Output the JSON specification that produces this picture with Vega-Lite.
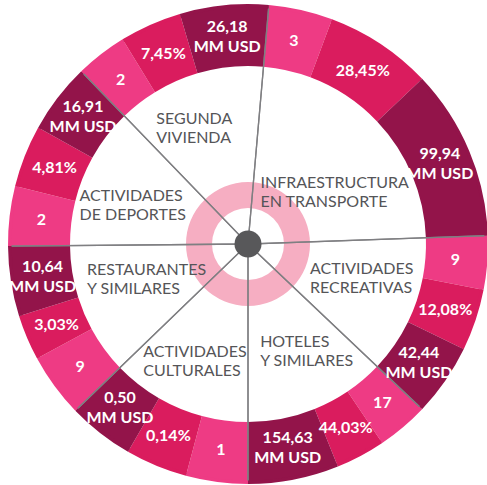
{
  "$schema": "https://vega.github.io/schema/vega-lite/v6.json",
  "width": 478,
  "height": 482,
  "autosize": {"type": "none"},
  "padding": {"left": 9, "top": 3, "right": 0, "bottom": 0},
  "background": "white",
  "view": {"stroke": null},
  "data": {
    "values": [
      {"ord": 1, "id": "infra", "cat": "INFRAESTRUCTURA\nEN TRANSPORTE", "tone": "a", "label": "3", "span": 15.5},
      {"ord": 2, "id": "infra", "cat": "INFRAESTRUCTURA\nEN TRANSPORTE", "tone": "b", "label": "28,45%", "span": 26},
      {"ord": 3, "id": "infra", "cat": "INFRAESTRUCTURA\nEN TRANSPORTE", "tone": "c", "label": "99,94\nMM USD", "span": 41.5},
      {"ord": 4, "id": "recre", "cat": "ACTIVIDADES\nRECREATIVAS", "tone": "a", "label": "9", "span": 13},
      {"ord": 5, "id": "recre", "cat": "ACTIVIDADES\nRECREATIVAS", "tone": "b", "label": "12,08%", "span": 15},
      {"ord": 6, "id": "recre", "cat": "ACTIVIDADES\nRECREATIVAS", "tone": "c", "label": "42,44\nMM USD", "span": 17.5},
      {"ord": 7, "id": "hotel", "cat": "HOTELES\nY SIMILARES", "tone": "a", "label": "17", "span": 12.5},
      {"ord": 8, "id": "hotel", "cat": "HOTELES\nY SIMILARES", "tone": "b", "label": "44,03%", "span": 12},
      {"ord": 9, "id": "hotel", "cat": "HOTELES\nY SIMILARES", "tone": "c", "label": "154,63\nMM USD", "span": 22},
      {"ord": 10, "id": "cult", "cat": "ACTIVIDADES\nCULTURALES", "tone": "a", "label": "1", "span": 15},
      {"ord": 11, "id": "cult", "cat": "ACTIVIDADES\nCULTURALES", "tone": "b", "label": "0,14%", "span": 15},
      {"ord": 12, "id": "cult", "cat": "ACTIVIDADES\nCULTURALES", "tone": "c", "label": "0,50\nMM USD", "span": 16},
      {"ord": 13, "id": "rest", "cat": "RESTAURANTES\nY SIMILARES", "tone": "a", "label": "9", "span": 15.5},
      {"ord": 14, "id": "rest", "cat": "RESTAURANTES\nY SIMILARES", "tone": "b", "label": "3,03%", "span": 11},
      {"ord": 15, "id": "rest", "cat": "RESTAURANTES\nY SIMILARES", "tone": "c", "label": "10,64\nMM USD", "span": 17},
      {"ord": 16, "id": "dep", "cat": "ACTIVIDADES\nDE DEPORTES", "tone": "a", "label": "2", "span": 14.5},
      {"ord": 17, "id": "dep", "cat": "ACTIVIDADES\nDE DEPORTES", "tone": "b", "label": "4,81%", "span": 15},
      {"ord": 18, "id": "dep", "cat": "ACTIVIDADES\nDE DEPORTES", "tone": "c", "label": "16,91\nMM USD", "span": 17},
      {"ord": 19, "id": "seg", "cat": "SEGUNDA\nVIVIENDA", "tone": "a", "label": "2", "span": 12.5},
      {"ord": 20, "id": "seg", "cat": "SEGUNDA\nVIVIENDA", "tone": "b", "label": "7,45%", "span": 15},
      {"ord": 21, "id": "seg", "cat": "SEGUNDA\nVIVIENDA", "tone": "c", "label": "26,18\nMM USD", "span": 21.5}
    ]
  },
  "layer": [
    {
      "mark": {"type": "arc", "innerRadius": 178, "outerRadius": 238},
      "encoding": {
        "theta": {"field": "span", "type": "quantitative", "stack": true, "scale": {"domain": [0, 360], "nice": false, "range": [0.08727, 6.37045]}},
        "order": {"field": "ord", "type": "quantitative"},
        "detail": {"field": "ord", "type": "nominal"},
        "color": {"field": "tone", "type": "nominal", "scale": {"domain": ["a", "b", "c"], "range": ["#EE3B84", "#DA1C5E", "#93144A"]}, "legend": null}
      }
    },
    {
      "transform": [{"aggregate": [{"op": "count", "as": "n"}]}],
      "mark": {"type": "arc", "innerRadius": 36, "outerRadius": 62, "theta": 0, "theta2": 6.2832, "fill": "#F6AEC2"},
      "encoding": {}
    },
    {
      "transform": [{"aggregate": [{"op": "sum", "field": "span", "as": "span"}, {"op": "min", "field": "ord", "as": "ord"}], "groupby": ["id"]}],
      "mark": {"type": "arc", "innerRadius": 0, "outerRadius": 238, "filled": false, "stroke": "#7f7f82", "strokeWidth": 1.3},
      "encoding": {
        "theta": {"field": "span", "type": "quantitative", "stack": true},
        "order": {"field": "ord", "type": "quantitative"},
        "detail": {"field": "id", "type": "nominal"}
      }
    },
    {
      "mark": {"type": "arc", "innerRadius": 236.5, "outerRadius": 240},
      "encoding": {
        "theta": {"field": "span", "type": "quantitative", "stack": true},
        "order": {"field": "ord", "type": "quantitative"},
        "detail": {"field": "ord", "type": "nominal"},
        "color": {"field": "tone", "type": "nominal", "legend": null}
      }
    },
    {
      "transform": [{"aggregate": [{"op": "count", "as": "n"}]}],
      "mark": {"type": "arc", "innerRadius": 0, "outerRadius": 13.5, "theta": 0, "theta2": 6.2832, "fill": "#58585A"},
      "encoding": {}
    },
    {
      "mark": {"type": "text", "radius": 208, "font": "Lato", "fontWeight": "bold", "fontSize": 16, "lineHeight": 20, "lineBreak": "\n", "fill": "white", "align": "center", "baseline": "middle"},
      "encoding": {
        "theta": {"field": "span", "type": "quantitative", "stack": true},
        "order": {"field": "ord", "type": "quantitative"},
        "detail": {"field": "ord", "type": "nominal"},
        "text": {"field": "label", "type": "nominal", "condition": {"test": "datum.tone === 'c'", "value": ""}}
      }
    },
    {
      "mark": {"type": "text", "radius": 208, "dy": -10, "font": "Lato", "fontWeight": "bold", "fontSize": 16, "lineHeight": 20, "lineBreak": "\n", "fill": "white", "align": "center", "baseline": "middle"},
      "encoding": {
        "theta": {"field": "span", "type": "quantitative", "stack": true},
        "order": {"field": "ord", "type": "quantitative"},
        "detail": {"field": "ord", "type": "nominal"},
        "text": {"field": "label", "type": "nominal", "condition": {"test": "datum.tone !== 'c'", "value": ""}}
      }
    },
    {
      "transform": [{"aggregate": [{"op": "sum", "field": "span", "as": "span"}, {"op": "min", "field": "ord", "as": "ord"}], "groupby": ["id", "cat"]}],
      "mark": {"type": "text", "radius": 122, "dx": -51, "dy": -10, "font": "Lato", "fontSize": 16, "lineHeight": 19, "lineBreak": "\n", "fill": "#555558", "align": "left", "baseline": "middle"},
      "encoding": {
        "theta": {"field": "span", "type": "quantitative", "stack": true},
        "order": {"field": "ord", "type": "quantitative"},
        "detail": {"field": "id", "type": "nominal"},
        "text": {"field": "cat", "type": "nominal", "condition": {"test": "datum.id !== 'seg'", "value": ""}}
      }
    },
    {
      "transform": [{"aggregate": [{"op": "sum", "field": "span", "as": "span"}, {"op": "min", "field": "ord", "as": "ord"}], "groupby": ["id", "cat"]}],
      "mark": {"type": "text", "radius": 122, "dx": -76, "dy": 23, "font": "Lato", "fontSize": 16, "lineHeight": 19, "lineBreak": "\n", "fill": "#555558", "align": "left", "baseline": "middle"},
      "encoding": {
        "theta": {"field": "span", "type": "quantitative", "stack": true},
        "order": {"field": "ord", "type": "quantitative"},
        "detail": {"field": "id", "type": "nominal"},
        "text": {"field": "cat", "type": "nominal", "condition": {"test": "datum.id !== 'infra'", "value": ""}}
      }
    },
    {
      "transform": [{"aggregate": [{"op": "sum", "field": "span", "as": "span"}, {"op": "min", "field": "ord", "as": "ord"}], "groupby": ["id", "cat"]}],
      "mark": {"type": "text", "radius": 122, "dx": -52, "dy": -18, "font": "Lato", "fontSize": 16, "lineHeight": 19, "lineBreak": "\n", "fill": "#555558", "align": "left", "baseline": "middle"},
      "encoding": {
        "theta": {"field": "span", "type": "quantitative", "stack": true},
        "order": {"field": "ord", "type": "quantitative"},
        "detail": {"field": "id", "type": "nominal"},
        "text": {"field": "cat", "type": "nominal", "condition": {"test": "datum.id !== 'recre'", "value": ""}}
      }
    },
    {
      "transform": [{"aggregate": [{"op": "sum", "field": "span", "as": "span"}, {"op": "min", "field": "ord", "as": "ord"}], "groupby": ["id", "cat"]}],
      "mark": {"type": "text", "radius": 122, "dx": -36, "dy": -14, "font": "Lato", "fontSize": 16, "lineHeight": 19, "lineBreak": "\n", "fill": "#555558", "align": "left", "baseline": "middle"},
      "encoding": {
        "theta": {"field": "span", "type": "quantitative", "stack": true},
        "order": {"field": "ord", "type": "quantitative"},
        "detail": {"field": "id", "type": "nominal"},
        "text": {"field": "cat", "type": "nominal", "condition": {"test": "datum.id !== 'hotel'", "value": ""}}
      }
    },
    {
      "transform": [{"aggregate": [{"op": "sum", "field": "span", "as": "span"}, {"op": "min", "field": "ord", "as": "ord"}], "groupby": ["id", "cat"]}],
      "mark": {"type": "text", "radius": 122, "dx": -57, "dy": -4, "font": "Lato", "fontSize": 16, "lineHeight": 19, "lineBreak": "\n", "fill": "#555558", "align": "left", "baseline": "middle"},
      "encoding": {
        "theta": {"field": "span", "type": "quantitative", "stack": true},
        "order": {"field": "ord", "type": "quantitative"},
        "detail": {"field": "id", "type": "nominal"},
        "text": {"field": "cat", "type": "nominal", "condition": {"test": "datum.id !== 'cult'", "value": ""}}
      }
    },
    {
      "transform": [{"aggregate": [{"op": "sum", "field": "span", "as": "span"}, {"op": "min", "field": "ord", "as": "ord"}], "groupby": ["id", "cat"]}],
      "mark": {"type": "text", "radius": 122, "dx": -48, "dy": -20, "font": "Lato", "fontSize": 16, "lineHeight": 19, "lineBreak": "\n", "fill": "#555558", "align": "left", "baseline": "middle"},
      "encoding": {
        "theta": {"field": "span", "type": "quantitative", "stack": true},
        "order": {"field": "ord", "type": "quantitative"},
        "detail": {"field": "id", "type": "nominal"},
        "text": {"field": "cat", "type": "nominal", "condition": {"test": "datum.id !== 'rest'", "value": ""}}
      }
    },
    {
      "transform": [{"aggregate": [{"op": "sum", "field": "span", "as": "span"}, {"op": "min", "field": "ord", "as": "ord"}], "groupby": ["id", "cat"]}],
      "mark": {"type": "text", "radius": 122, "dx": -56, "dy": -1, "font": "Lato", "fontSize": 16, "lineHeight": 19, "lineBreak": "\n", "fill": "#555558", "align": "left", "baseline": "middle"},
      "encoding": {
        "theta": {"field": "span", "type": "quantitative", "stack": true},
        "order": {"field": "ord", "type": "quantitative"},
        "detail": {"field": "id", "type": "nominal"},
        "text": {"field": "cat", "type": "nominal", "condition": {"test": "datum.id !== 'dep'", "value": ""}}
      }
    }
  ]
}
